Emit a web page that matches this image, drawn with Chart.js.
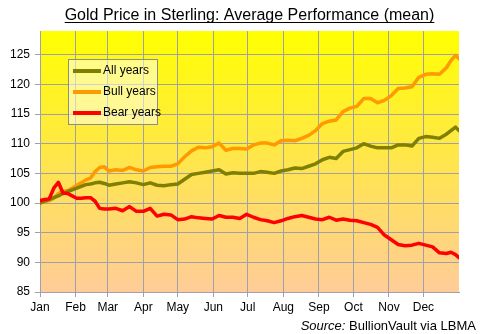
<!DOCTYPE html>
<html>
<head>
<meta charset="utf-8">
<title>Gold Price in Sterling: Average Performance (mean)</title>
<script src="https://cdn.jsdelivr.net/npm/chart.js@4/dist/chart.umd.min.js"></script>
<style>
  html, body { margin: 0; padding: 0; background: #ffffff; }
  #wrap { width: 480px; height: 334px; position: relative; }
</style>
</head>
<body>
<div id="wrap"><canvas id="chart" width="480" height="334"></canvas></div>
<script>
// Day of year for each sampled point
const days = [0,4,8,12,16,20,24,28,32,36,40,44,48,52,56,60,66,72,78,84,90,96,102,108,114,120,126,132,138,144,150,156,162,168,174,180,186,192,198,204,210,216,222,228,234,240,246,252,258,264,270,276,282,288,294,300,306,312,318,324,330,336,342,348,354,358,362,365];

// Average performance, start of year = 100
const allYears = [100.0,100.3,100.6,100.9,101.2,101.6,101.9,102.2,102.5,102.8,103.1,103.2,103.4,103.5,103.3,103.0,103.2,103.4,103.6,103.4,103.1,103.4,103.0,102.9,103.1,103.2,104.0,104.8,105.0,105.2,105.4,105.6,104.9,105.1,105.0,105.0,105.0,105.3,105.2,105.0,105.4,105.6,105.9,105.8,106.2,106.6,107.3,107.7,107.5,108.7,109.0,109.3,110.0,109.6,109.3,109.3,109.3,109.8,109.8,109.6,110.9,111.2,111.1,110.9,111.6,112.2,112.8,112.2];
const bullYears = [100.0,100.2,100.4,100.8,101.6,102.0,102.1,102.5,103.0,103.4,103.9,104.2,105.3,106.0,106.1,105.4,105.6,105.5,106.0,105.6,105.4,106.0,106.1,106.2,106.2,106.6,107.8,108.8,109.4,109.3,109.5,110.1,108.9,109.2,109.2,109.1,109.8,110.1,110.1,109.8,110.5,110.6,110.5,110.9,111.4,112.2,113.4,113.8,114.0,115.4,116.0,116.3,117.6,117.6,116.9,117.3,118.1,119.3,119.4,119.6,121.2,121.7,121.8,121.7,122.8,124.0,124.9,124.3];
const bearYears = [100.4,100.6,100.7,102.5,103.5,101.7,101.6,101.2,100.8,100.8,100.9,100.9,100.3,99.1,99.0,99.0,99.1,98.7,99.4,98.6,98.6,99.1,97.8,98.1,98.0,97.2,97.3,97.7,97.5,97.4,97.3,97.9,97.6,97.6,97.4,98.1,97.6,97.2,97.0,96.7,97.0,97.4,97.7,97.9,97.6,97.3,97.2,97.6,97.1,97.3,97.1,97.0,96.7,96.4,95.9,94.6,93.8,93.0,92.8,92.9,93.2,92.9,92.6,91.6,91.5,91.7,91.3,90.8];

// Axis labels
const monthNames = ['Jan','Feb','Mar','Apr','May','Jun','Jul','Aug','Sep','Oct','Nov','Dec'];
const monthStarts = [0,31,59,90,120,151,181,212,243,273,304,334];
const yTicks = [85,90,95,100,105,110,115,120,125];

const seriesNames = ['All years','Bull years','Bear years'];
const seriesColors = ['#808000','#ff9900','#ff0000'];

const titleText = 'Gold Price in Sterling: Average Performance (mean)';
const sourceLabel = 'Source:';
const sourceText = ' BullionVault via LBMA';

const FONT = "'Liberation Sans', Arial, Helvetica, sans-serif";
Chart.defaults.font.family = FONT;
Chart.defaults.font.size = 12;
Chart.defaults.color = '#000000';

const toPoints = vals => days.map((d, i) => ({ x: d, y: vals[i] }));

// Background, title, legend box and source note
const decor = {
  id: 'decor',
  beforeDraw(chart) {
    const { ctx, chartArea: a, width, height } = chart;
    ctx.save();
    ctx.fillStyle = '#ffffff';
    ctx.fillRect(0, 0, width, height);
    const g = ctx.createLinearGradient(0, a.top, 0, a.bottom);
    g.addColorStop(0, '#ffff00');
    g.addColorStop(1, '#ffcc99');
    ctx.fillStyle = g;
    ctx.fillRect(a.left, a.top, a.right - a.left, a.bottom - a.top);
    ctx.restore();
  },
  afterDraw(chart) {
    const { ctx, chartArea: a, width, height } = chart;
    ctx.save();

    // Title, underlined, centred over the plot
    ctx.font = '16px ' + FONT;
    ctx.fillStyle = '#000000';
    ctx.textAlign = 'center';
    ctx.textBaseline = 'alphabetic';
    const cx = (a.left + a.right) / 2;
    ctx.fillText(titleText, cx, 20);
    const tw = ctx.measureText(titleText).width;
    ctx.strokeStyle = '#000000';
    ctx.lineWidth = 1;
    ctx.beginPath();
    ctx.moveTo(cx - tw / 2, 22.5);
    ctx.lineTo(cx + tw / 2, 22.5);
    ctx.stroke();

    // Legend box inside the plot area
    const bx = a.left + 28, by = a.top + 28, bw = 89, bh = 65;
    ctx.fillStyle = 'rgba(255,255,255,0.5)';
    ctx.fillRect(bx, by, bw, bh);
    ctx.strokeStyle = '#8c8c8c';
    ctx.lineWidth = 1;
    ctx.strokeRect(bx + 0.5, by + 0.5, bw, bh);
    ctx.font = '12px ' + FONT;
    ctx.textAlign = 'left';
    ctx.textBaseline = 'middle';
    chart.data.datasets.forEach((ds, i) => {
      const ly = by + 12 + i * 21;
      ctx.strokeStyle = ds.borderColor;
      ctx.lineWidth = 4;
      ctx.beginPath();
      ctx.moveTo(bx + 5, ly);
      ctx.lineTo(bx + 33, ly);
      ctx.stroke();
      ctx.fillStyle = '#000000';
      ctx.fillText(ds.label, bx + 35, ly);
    });

    // Source note, bottom right
    ctx.textBaseline = 'alphabetic';
    ctx.textAlign = 'left';
    ctx.font = '13px ' + FONT;
    const w2 = ctx.measureText(sourceText).width;
    ctx.font = 'italic 13px ' + FONT;
    const w1 = ctx.measureText(sourceLabel).width;
    const sx = width - 4 - w1 - w2;
    const sy = height - 4;
    ctx.fillText(sourceLabel, sx, sy);
    ctx.font = '13px ' + FONT;
    ctx.fillText(sourceText, sx + w1, sy);
    ctx.restore();
  }
};

const gridColor = '#a0a0a8';

new Chart(document.getElementById('chart'), {
  type: 'line',
  data: {
    datasets: [
      { label: seriesNames[0], data: toPoints(allYears), borderColor: seriesColors[0], order: 2 },
      { label: seriesNames[1], data: toPoints(bullYears), borderColor: seriesColors[1], order: 3 },
      { label: seriesNames[2], data: toPoints(bearYears), borderColor: seriesColors[2], order: 1 }
    ]
  },
  options: {
    responsive: false,
    animation: false,
    events: [],
    layout: { padding: { top: 31, right: 21, left: 0, bottom: 0 } },
    elements: {
      line: { borderWidth: 3.5, tension: 0, borderJoinStyle: 'round', borderCapStyle: 'round', fill: false },
      point: { radius: 0 }
    },
    plugins: {
      legend: { display: false },
      title: { display: false },
      tooltip: { enabled: false }
    },
    scales: {
      x: {
        type: 'linear',
        min: 0,
        max: 365,
        afterBuildTicks: s => { s.ticks = monthStarts.map(v => ({ value: v })); },
        afterFit: s => { s.height = 42; },
        ticks: {
          autoSkip: false,
          maxRotation: 0,
          padding: 3,
          font: { size: 12 },
          callback: v => monthNames[monthStarts.indexOf(v)]
        },
        grid: { color: gridColor, lineWidth: 1, tickLength: 5, drawTicks: true },
        border: { color: gridColor, width: 1 }
      },
      y: {
        type: 'linear',
        min: 85,
        max: 129,
        afterBuildTicks: s => { s.ticks = yTicks.map(v => ({ value: v })); },
        afterFit: s => { s.width = 40; },
        ticks: { padding: 5, font: { size: 12 } },
        grid: { color: gridColor, lineWidth: 1, tickLength: 5, drawTicks: true },
        border: { color: gridColor, width: 1 }
      }
    }
  },
  plugins: [decor]
});
</script>
</body>
</html>
